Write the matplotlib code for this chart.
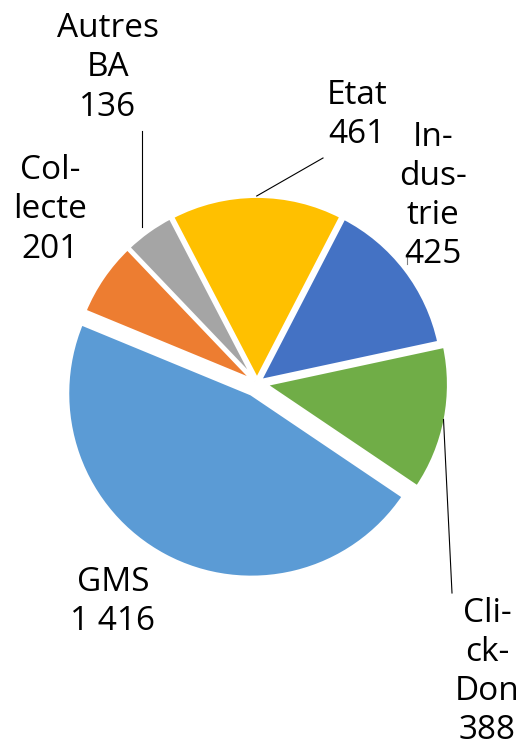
import numpy as np
import matplotlib.pyplot as plt

plt.rcParams['font.family'] = ['Open Sans', 'DejaVu Sans']

# Données
categories = ['Etat', 'Industrie', 'Click-Don', 'GMS', 'Collecte', 'Autres BA']
label_texts = ['Etat\n461', 'In-\ndus-\ntrie\n425', 'Cli-\nck-\nDon\n388',
               'GMS\n1 416', 'Col-\nlecte\n201', 'Autres\nBA\n136']
values = [461, 425, 388, 1416, 201, 136]
colors = ['#FFC000', '#4472C4', '#70AD47', '#5B9BD5', '#ED7D31', '#A5A5A5']

# Position des étiquettes (pixels, origine en haut à gauche)
label_pos = [(357, 115), (433, 196), (487, 672), (113, 602), (50, 210), (108, 68)]

W, H = 523, 752
R = 184
# décalage des parts (en pixels, unités des axes)
explode = [3, 3, 8, 12, 3, 3]

fig = plt.figure(figsize=(W / 100, H / 100), dpi=100)
ax = fig.add_axes([0, 0, 1, 1])

wedges, _ = ax.pie(values, colors=colors, explode=explode, startangle=117.5,
                   counterclock=False, center=(257, -383), radius=R,
                   wedgeprops=dict(edgecolor='white', linewidth=2.8))

ax.set_xlim(0, W)
ax.set_ylim(-H, 0)
ax.axis('off')

for txt, (x, y) in zip(label_texts, label_pos):
    ax.text(x, -y, txt, ha='center', va='center', fontsize=24,
            linespacing=1.25, color='black')


# Point sur le bord d'une part, à l'angle médian
def edge_point(w):
    ang = np.deg2rad((w.theta1 + w.theta2) / 2)
    cx, cy = w.center
    return cx + w.r * np.cos(ang), cy + w.r * np.sin(ang)


# Lignes de rappel
px, py = edge_point(wedges[0])  # Etat
ax.plot([px, 323], [py, -158], color='black', lw=0.8)

px, py = edge_point(wedges[5])  # Autres BA
ax.plot([px - 6, px - 6], [py + 4, -131], color='black', lw=0.8)

px, py = edge_point(wedges[2])  # Click-Don
ax.plot([px - 2, 452], [py, -593], color='black', lw=0.8)

ax.plot([407, 407], [-255, -264], color='#808080', lw=0.8)  # Industrie

plt.savefig('out.png', dpi=100)
